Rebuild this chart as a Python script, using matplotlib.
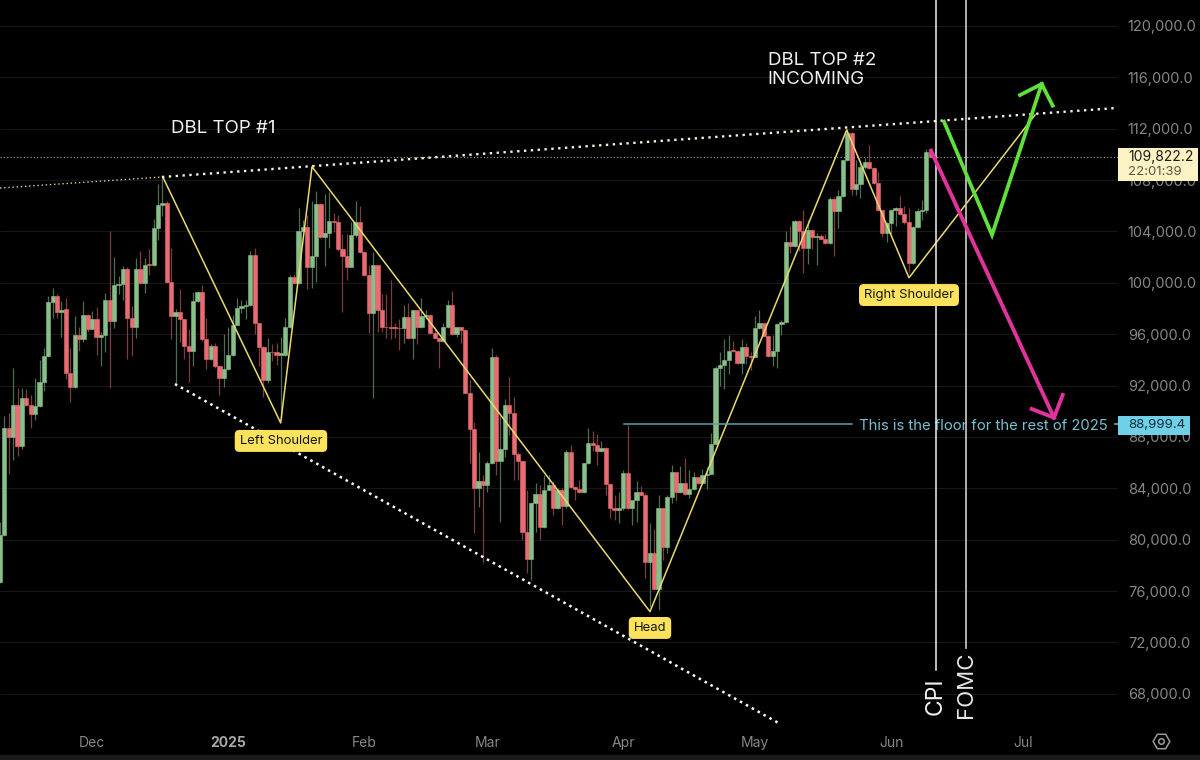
import matplotlib
matplotlib.use("Agg")
import matplotlib.pyplot as plt
from matplotlib.patches import Rectangle

plt.rcParams['font.family'] = ['Inter', 'DejaVu Sans']

# Daily candles, prices in thousands of USD; index 0 is 10 Nov 2024
opens = [76.7,80.4,88.7,88.0,90.5,87.3,91.0,90.5,89.8,90.4,
 92.3,94.3,98.5,99.0,97.7,98.0,93.0,91.9,95.9,95.6,
 97.5,96.4,97.2,95.8,95.9,98.7,97.05,99.8,99.9,101.1,
 97.3,96.6,101.1,100.0,101.5,101.35,104.3,106.05,106.2,100.1,
 97.4,97.7,97.2,95.05,94.7,98.6,99.3,95.6,94.1,95.1,
 93.5,92.6,93.3,94.35,96.75,98.05,98.2,98.3,102.2,96.9,
 95.0,92.45,94.65,94.6,94.4,94.4,96.55,100.45,99.95,104.05,
 104.35,101.2,102.1,106.15,103.6,103.9,104.8,104.7,102.6,102.1,
 101.25,103.7,104.7,102.4,100.6,97.65,101.4,97.85,96.6,96.55,
 96.55,96.5,96.45,97.35,95.7,97.85,96.6,97.4,97.5,96.1,
 95.7,95.5,96.6,98.3,96.0,96.55,96.3,91.45,88.6,84.0,
 84.6,84.25,85.95,94.2,86.1,87.1,90.5,89.85,86.7,86.1,
 80.6,78.5,82.85,83.55,81.0,83.9,84.25,82.5,83.9,82.6,
 86.8,84.1,83.95,83.7,86.0,87.5,87.35,86.9,87.15,84.35,
 82.5,82.3,82.45,85.2,82.45,83.1,83.75,83.5,78.3,79.0,
 76.2,82.45,79.45,83.3,85.25,83.7,84.45,83.55,83.95,84.85,
 84.4,85.05,85.15,87.45,93.4,93.6,94.0,94.8,94.7,93.75,
 95.0,94.3,94.25,96.45,96.9,95.85,94.3,94.7,96.8,96.95,
 103.15,102.9,104.8,104.05,102.75,104.15,103.55,103.65,103.45,103.1,
 106.5,105.6,106.75,109.6,111.65,107.3,107.7,109.0,109.4,108.95,
 107.75,105.65,103.9,104.65,105.65,105.85,105.35,104.7,101.55,104.35,
 105.6,105.65,110.2]
closes = [80.4,88.7,88.0,90.5,87.3,91.0,90.5,89.8,90.4,92.3,
 94.3,98.5,99.0,97.7,97.9,93.0,91.9,95.9,95.6,97.5,
 96.4,97.2,95.8,95.9,98.7,97.05,99.8,99.9,101.1,97.3,
 96.6,101.1,100.0,101.4,101.35,104.3,106.05,106.2,100.1,97.4,
 97.7,97.2,95.05,94.7,98.6,99.3,95.6,94.1,95.1,93.5,
 92.6,93.3,94.35,96.75,98.05,98.2,98.3,102.2,96.9,95.0,
 92.45,94.65,94.6,94.4,94.5,96.55,100.45,99.95,104.05,104.35,
 101.2,102.1,106.15,103.6,103.9,104.8,104.7,102.6,102.1,101.25,
 103.7,104.7,102.4,100.6,97.65,101.4,97.85,96.6,96.55,96.5,
 96.5,96.45,97.35,95.7,97.85,96.6,97.4,97.5,96.1,95.7,
 95.5,96.6,98.3,96.0,96.55,96.3,91.45,88.6,84.0,84.6,
 84.25,85.95,94.2,86.1,87.1,90.5,89.85,86.7,86.1,80.6,
 78.5,82.85,83.55,81.0,83.9,84.25,82.5,83.9,82.6,86.8,
 84.1,83.95,83.7,86.0,87.5,87.35,86.9,87.15,84.35,82.5,
 82.3,82.45,85.2,82.45,83.1,83.75,83.5,78.3,79.0,76.2,
 82.45,79.45,83.3,85.25,83.7,84.45,83.55,83.95,84.85,84.4,
 85.05,85.15,87.45,93.4,93.6,94.0,94.7,94.7,93.75,95.0,
 94.3,94.25,96.45,96.9,95.85,94.3,94.7,96.8,96.95,103.15,
 102.9,104.8,104.05,102.75,104.15,103.55,103.65,103.45,103.1,106.5,
 105.6,106.75,109.6,111.65,107.3,107.7,109.0,109.4,108.95,107.75,
 105.65,103.9,104.65,105.65,105.85,105.35,104.7,101.55,104.35,105.6,
 105.65,110.2,109.82]
highs = [81.4,89.6,89.9,93.4,91.8,91.8,91.7,91.3,92.6,94.0,
 94.9,99.0,99.6,99.1,98.6,98.8,94.9,97.4,96.6,98.6,
 97.6,97.8,98.1,96.2,99.2,104.0,102.0,100.5,101.3,101.2,
 98.2,101.9,102.5,101.9,102.6,105.0,107.7,108.3,106.4,102.7,
 98.0,99.5,97.2,96.4,99.3,99.4,99.8,97.3,95.2,95.3,
 93.6,96.0,96.6,97.5,98.8,98.7,98.7,102.5,102.7,96.9,
 95.1,95.7,95.2,95.3,95.75,97.3,100.6,100.7,105.85,104.9,
 105.3,106.4,107.15,106.2,106.9,107.1,105.45,105.3,103.8,103.8,
 104.7,106.4,106.0,102.5,101.4,102.4,101.4,99.1,99.1,100.2,
 96.9,97.2,98.3,98.4,97.9,97.9,98.8,97.9,97.5,96.6,
 95.8,96.9,98.7,99.4,96.6,96.6,96.4,92.45,89.2,86.85,
 85.0,86.1,94.9,94.4,89.6,90.95,92.7,91.15,86.8,86.2,
 83.9,82.9,84.4,84.25,85.0,85.0,84.6,84.0,84.0,87.0,
 87.4,84.2,84.65,86.0,88.7,88.45,88.2,87.65,87.2,84.4,
 83.5,83.75,85.45,88.9,82.6,84.6,84.15,83.6,81.3,80.8,
 83.5,82.5,83.5,85.85,85.3,85.75,86.35,85.4,85.3,84.9,
 85.5,85.7,88.3,93.5,94.65,95.6,95.9,95.5,94.8,95.6,
 95.35,94.6,97.4,97.9,96.9,95.9,95.9,96.9,97.1,104.0,
 104.4,104.9,104.9,105.7,104.9,104.2,103.9,103.8,103.8,106.65,
 106.7,107.2,109.6,112.0,111.75,109.55,109.3,109.7,110.7,109.0,
 108.6,105.7,104.7,105.75,105.9,106.75,106.0,105.8,104.4,105.8,
 106.45,110.45,110.3]
lows = [76.6,80.3,85.1,86.2,86.5,87.1,90.4,88.7,89.3,90.3,
 91.6,94.2,97.3,97.3,95.8,92.5,90.7,91.8,94.7,95.4,
 96.2,96.4,94.4,93.5,94.6,91.8,96.5,99.1,98.7,94.1,
 94.3,95.7,99.9,99.2,100.6,101.3,103.3,105.2,100.0,95.6,
 92.2,95.4,94.1,92.3,93.5,98.5,95.5,93.3,94.0,93.4,
 91.3,91.9,93.2,94.3,96.7,97.65,97.2,98.2,96.0,93.5,
 91.15,92.2,93.9,93.6,89.3,94.3,96.5,99.9,99.9,104.0,
 99.5,99.6,100.1,103.5,101.3,102.7,103.95,102.5,97.7,100.2,
 101.2,103.6,102.3,100.5,96.1,91.0,96.2,96.2,95.7,95.65,
 95.7,94.75,95.3,95.6,94.1,95.25,96.5,97.2,96.0,95.6,
 93.35,95.4,96.5,95.9,95.8,95.3,91.4,85.95,80.5,82.55,
 78.15,83.75,85.9,85.05,81.4,86.45,88.15,84.65,84.65,80.0,
 77.4,76.85,80.6,80.0,80.9,83.9,81.9,82.4,81.15,82.5,
 84.0,83.1,83.6,83.6,85.9,86.9,85.85,86.8,83.5,81.7,
 81.55,81.3,82.35,82.4,81.15,81.4,83.4,77.0,74.8,76.1,
 74.5,78.4,78.95,82.85,83.0,83.6,83.5,83.25,83.9,84.35,
 84.3,83.95,85.1,87.4,92.0,91.75,92.9,94.6,93.7,92.9,
 93.7,93.2,94.2,96.4,95.8,94.2,93.55,93.4,95.9,96.9,
 102.3,102.8,102.45,100.8,101.5,102.6,101.4,103.4,103.0,103.0,
 102.1,104.25,106.7,109.5,106.85,106.85,106.6,108.9,108.9,107.7,
 105.6,103.6,103.15,103.8,104.4,105.3,104.6,100.8,101.5,104.3,
 104.9,105.4,109.8]

# Axis ticks
price_ticks = [68,72,76,80,84,88,92,96,100,104,108,112,116,120]
date_ticks = [21,52,83,111,142,172,203,233]
date_labels = ['Dec','2025','Feb','Mar','Apr','May','Jun','Jul']

# Drawn annotations (day index, price)
zig_x = [37.06,63.94,71.07,148.06,192.87,207.06,235.76]
zig_y = [108.26,89.09,109.04,74.4,111.9,100.4,113.07]
res_thin_x = [0,36.9]
res_thin_y = [107.38,108.24]
res_x = [36.9,254.2]
res_y = [108.24,113.61]
sup_x = [39.86,177.7]
sup_y = [92.12,65.66]
green_x = [215.03,225.97,237.29]
green_y = [112.55,103.73,115.48]
green_head_x = [232.35,237.29,239.8]
green_head_y = [114.62,115.48,113.79]
pink_x = [212.07,240.09]
pink_y = [110.29,89.5]
pink_head_x = [235.01,240.09,242.07]
pink_head_y = [90.18,89.5,91.27]
last_price = 109.8222
floor_price = 88.9994
floor_span = [142.1,194.1]
cpi_day, fomc_day = 213.1, 220.05
cpi_end, fomc_end = 69.86, 71.57

GREEN, RED = '#88bf88', '#ea6c72'
GREEN_W, RED_W = '#4f6e50', '#7a3e41'
AXIS = '#878787'

fig = plt.figure(figsize=(12, 7.6), dpi=100, facecolor='#000000')
ax = fig.add_axes([0, 0, 1, 1], facecolor='#000000')
ax.set_xlim(0, 1200/4.39)
ax.set_ylim(62.85, 122.02)
for s in ax.spines.values():
    s.set_visible(False)

ax.yaxis.tick_right()
ax.set_yticks(price_ticks, [f'{p*1000:,.1f}' for p in price_ticks])
ax.tick_params(axis='y', length=0, pad=-52, labelsize=10.5, labelcolor=AXIS)
ax.set_xticks(date_ticks, date_labels)
ax.tick_params(axis='x', length=0, pad=-17.5, labelsize=10, labelcolor=AXIS)
for lab in ax.get_xticklabels():
    if lab.get_text() == '2025':
        lab.set_fontweight('bold')
        lab.set_color('#a8a8a8')

ax.hlines(price_ticks, 0, 254.5, color='#171717', lw=0.8, zorder=1)
ax.axhspan(62.85, 63.24, color='#1a1a1a', zorder=1)
ax.plot([0, 254.7], [last_price]*2, color='#a5a598', lw=0.8, ls=(0, (1, 2)), zorder=2)

# Candles
xs = list(range(len(opens)))
up = [c >= o for o, c in zip(opens, closes)]
ax.vlines(xs, lows, highs, colors=[GREEN_W if u else RED_W for u in up], lw=0.9, zorder=3)
ax.bar(xs, [abs(c-o) for o, c in zip(opens, closes)],
       bottom=[min(o, c) for o, c in zip(opens, closes)], width=0.96,
       color=[GREEN if u else RED for u in up], linewidth=0.4,
       edgecolor=[GREEN if u else RED for u in up], zorder=4)

# Trend lines
ax.plot(res_thin_x, res_thin_y, color='#ddd390', lw=1.0, ls=(0, (1, 2.0)), zorder=6)
ax.plot(res_x, res_y, color='#f7f4de', lw=1.7, ls=(0, (1, 1.9)), zorder=6)
ax.plot(sup_x, sup_y, color='#ffffff', lw=1.8, ls=(0, (1, 1.7)), zorder=6)
ax.plot(zig_x, zig_y, color='#e9da6e', lw=1.1, zorder=5)

# Floor line
ax.plot(floor_span, [floor_price]*2, color='#5f9fb0', lw=1.1, zorder=5)
ax.text(195.7, floor_price-0.12, 'This is the floor for the rest of 2025', color='#79c2d3',
        fontsize=10.7, ha='left', va='center', zorder=6)
ax.plot([253.9, 254.7], [floor_price]*2, color='#79c2d3', lw=1.1, zorder=5)

# Event lines
ax.plot([cpi_day]*2, [cpi_end, 122.02], color='#f2f2f2', lw=1.1, zorder=7)
ax.plot([fomc_day]*2, [fomc_end, 122.02], color='#bdbdbd', lw=1.3, zorder=7)
ax.text(cpi_day+0.1, 67.8, 'CPI', color='#f2f2f2', rotation=90, fontsize=16.5, ha='center', va='center', zorder=7)
ax.text(fomc_day, 68.74, 'FOMC', color='#e6e6e6', rotation=90, fontsize=16, ha='center', va='center', zorder=7)

# Scenario arrows
for xv, yv in [(green_x, green_y), (green_head_x, green_head_y)]:
    ax.plot(xv, yv, color='#60e03a', lw=2.7, solid_joinstyle='miter', zorder=8)
for xv, yv in [(pink_x, pink_y), (pink_head_x, pink_head_y)]:
    ax.plot(xv, yv, color='#e2329c', lw=2.8, solid_joinstyle='miter', zorder=8)

# Titles on the chart
ax.text(38.95, 111.98, 'DBL TOP #1', color='#f0f0f0', fontsize=13.5, ha='left', va='center', zorder=7)
ax.text(174.9, 116.55, 'DBL TOP #2\nINCOMING', color='#f0f0f0', fontsize=13.5, ha='left', va='center',
        linespacing=1.12, zorder=7)

# Pattern labels
for x, y, t in [(64.0, 87.69, 'Left Shoulder'), (207.06, 99.05, 'Right Shoulder'), (148.06, 73.13, 'Head')]:
    ax.text(x, y, t, color='#151515', fontsize=9.4, ha='center', va='center', zorder=9,
            bbox=dict(boxstyle='round,pad=0.38,rounding_size=0.35', fc='#fde35c', ec='none'))

# Last-price and floor tags
ax.add_patch(Rectangle((254.67, 107.93), 18.2, 2.57, fc='#fdf2c4', ec='none', zorder=10))
ax.text(257.0, 109.82, '109,822.2', color='#1a1a1a', fontsize=10, ha='left', va='center', zorder=11)
ax.text(257.0, 108.6, '22:01:39', color='#5a5648', fontsize=9.5, ha='left', va='center', zorder=11)
ax.add_patch(Rectangle((254.67, 88.16), 16.4, 1.47, fc='#70d0e8', ec='none', zorder=10))
ax.text(257.0, floor_price-0.05, '88,999.4', color='#123038', fontsize=9.6, ha='left', va='center', zorder=11)

# Settings icon
ax.plot([264.5], [64.33], marker='H', ms=12, mfc='none', mec='#9a9a9a', mew=1.1, ls='none', zorder=6)
ax.plot([264.5], [64.33], marker='o', ms=4, mfc='none', mec='#9a9a9a', mew=1.1, ls='none', zorder=6)

fig.savefig('out.png', dpi=100, facecolor=fig.get_facecolor())
